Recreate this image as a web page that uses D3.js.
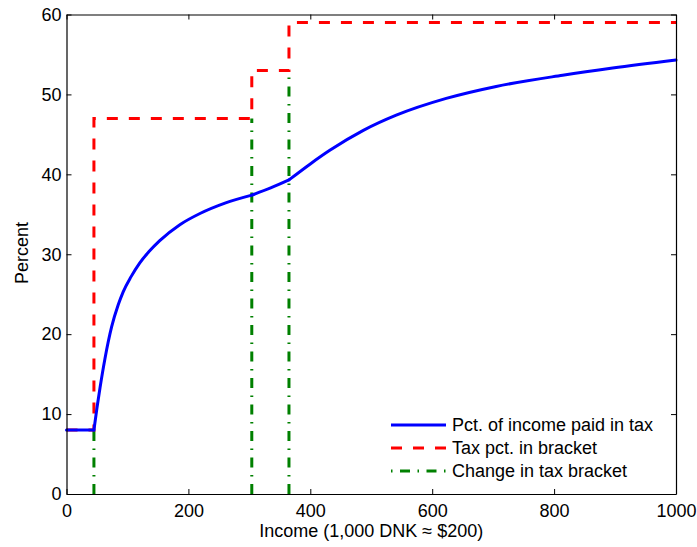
<!DOCTYPE html>
<html>
<head>
<meta charset="utf-8">
<script src="https://cdn.jsdelivr.net/npm/d3@7"></script>
<style>
  body { margin: 0; background: #fff; }
  svg text { font-family: "Liberation Sans", Arial, sans-serif; fill: #000; }
</style>
</head>
<body>
<div id="chart"></div>
<script>
// income in 1,000 DNK
var income = [0, 45, 50, 55, 63, 74, 85, 93, 106, 120, 135, 153, 186, 219, 260, 304, 335, 365, 400, 432, 487, 541, 623, 705, 814, 896, 1000];
var avgPct = [8, 8, 10.8, 13.3, 16.9, 20.9, 23.7, 25.3, 27.2, 28.9, 30.3, 31.7, 33.7, 35.1, 36.4, 37.4, 38.3, 39.3, 41.3, 43, 45.5, 47.4, 49.5, 51, 52.4, 53.3, 54.3];

// bracket limits and marginal rates
var bracketStart = [0, 45, 304, 365];
var bracketRate = [8, 47, 53, 59];
var bracketChange = [45, 304, 365];

var xTicks = [0, 200, 400, 600, 800, 1000];
var yTicks = [0, 10, 20, 30, 40, 50, 60];

var legendLabels = ["Pct. of income paid in tax", "Tax pct. in bracket", "Change in tax bracket"];

var W = 697, H = 547;
var axLeft = 66.5, axRight = 676, axTop = 14.5, axBottom = 494;
var fontSize = 18;

var x = d3.scaleLinear().domain([0, 1000]).range([axLeft, axRight]);
var y = d3.scaleLinear().domain([0, 60]).range([axBottom, axTop]);

var svg = d3.select("#chart").append("svg")
	.attr("width", W)
	.attr("height", H);

// red step line
var steps = [];
bracketStart.forEach(function(s, i) {
	var end = i < bracketStart.length - 1 ? bracketStart[i + 1] : 1000;
	steps.push([s, bracketRate[i]]);
	steps.push([end, bracketRate[i]]);
});

// green bracket markers, from 0 up to the rate below the change
var changes = bracketChange.map(function(c, i) { return {x: c, top: bracketRate[i]}; });

svg.selectAll("line.change")
	.data(changes)
	.enter()
	.append("line")
	.attr("class", "change")
	.attr("x1", d => x(d.x))
	.attr("x2", d => x(d.x))
	.attr("y1", y(0))
	.attr("y2", d => y(d.top))
	.attr("stroke", "#008000")
	.attr("stroke-width", 3)
	.attr("stroke-dasharray", "10,7.5,1.5,7.5");

svg.append("path")
	.datum(steps)
	.attr("fill", "none")
	.attr("stroke", "#ff0000")
	.attr("stroke-width", 3)
	.attr("stroke-dasharray", "11,11")
	.attr("d", d3.line().x(d => x(d[0])).y(d => y(d[1])));

// blue curve, drawn per bracket so the kinks stay sharp
var pts = income.map((v, i) => [v, avgPct[i]]);
var cuts = [0, 45, 304, 365, 1000];
var curveLine = d3.line().x(d => x(d[0])).y(d => y(d[1])).curve(d3.curveMonotoneX);
for (var k = 0; k < cuts.length - 1; k++) {
	var seg = pts.filter(p => p[0] >= cuts[k] && p[0] <= cuts[k + 1]);
	svg.append("path")
		.datum(seg)
		.attr("fill", "none")
		.attr("stroke", "#0000ff")
		.attr("stroke-width", 3)
		.attr("stroke-linecap", "round")
		.attr("stroke-linejoin", "round")
		.attr("d", curveLine);
}

// axes box with inward ticks on all sides
svg.append("g")
	.attr("transform", "translate(0," + axBottom + ")")
	.call(d3.axisBottom(x).tickValues(xTicks).tickSizeInner(-5).tickSizeOuter(0).tickPadding(10).tickFormat(d3.format("d")))
	.call(g => g.selectAll("text").attr("font-size", fontSize));
svg.append("g")
	.attr("transform", "translate(0," + axTop + ")")
	.call(d3.axisTop(x).tickValues(xTicks).tickSizeInner(-5).tickSizeOuter(0).tickFormat(""));
svg.append("g")
	.attr("transform", "translate(" + axLeft + ",0)")
	.call(d3.axisLeft(y).tickValues(yTicks).tickSizeInner(-5).tickSizeOuter(0).tickPadding(5))
	.call(g => g.selectAll("text").attr("font-size", fontSize));
svg.append("g")
	.attr("transform", "translate(" + axRight + ",0)")
	.call(d3.axisRight(y).tickValues(yTicks).tickSizeInner(-5).tickSizeOuter(0).tickFormat(""));

svg.selectAll(".domain").attr("stroke", "#000").attr("stroke-width", 1.2);
svg.selectAll(".tick line").attr("stroke", "#000");
svg.selectAll("g").attr("font-family", null);

// axis titles
svg.append("text")
	.attr("x", (axLeft + axRight) / 2)
	.attr("y", 537)
	.attr("text-anchor", "middle")
	.attr("font-size", fontSize)
	.text("Income (1,000 DNK \u2248 $200)");

svg.append("text")
	.attr("transform", "translate(28,253) rotate(-90)")
	.attr("text-anchor", "middle")
	.attr("font-size", fontSize)
	.text("Percent");

// legend, no box
var legendStyles = [
	{color: "#0000ff", dash: null},
	{color: "#ff0000", dash: "11,11"},
	{color: "#008000", dash: "1.5,7.5,10,7.5"}
];
var legend = svg.append("g");
legendLabels.forEach(function(label, i) {
	var ly = 425 + i * 23;
	legend.append("line")
		.attr("x1", 391).attr("x2", 446)
		.attr("y1", ly).attr("y2", ly)
		.attr("stroke", legendStyles[i].color)
		.attr("stroke-width", 3)
		.attr("stroke-dasharray", legendStyles[i].dash);
	legend.append("text")
		.attr("x", 452)
		.attr("y", ly)
		.attr("dy", "0.35em")
		.attr("font-size", fontSize)
		.text(label);
});
</script>
</body>
</html>
